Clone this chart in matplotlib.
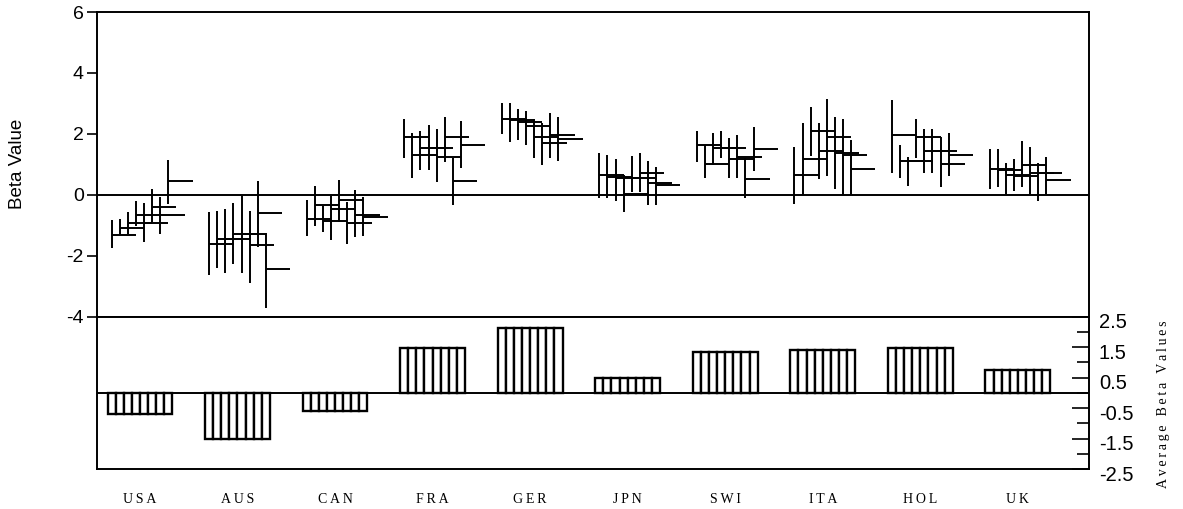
import numpy as np
import matplotlib.pyplot as plt
from matplotlib.transforms import ScaledTranslation

plt.rcParams['axes.unicode_minus'] = False

countries = ['USA', 'AUS', 'CAN', 'FRA', 'GER', 'JPN', 'SWI', 'ITA', 'HOL', 'UK']

# point estimates, lower and upper bounds (8 per country)
beta_est = [
    [-1.33, -1.08, -0.92, -0.66, -0.92, -0.40, -0.66, 0.45],
    [-1.60, -1.46, -1.46, -1.27, -1.30, -1.66, -0.60, -2.43],
    [-0.78, -0.32, -0.85, -0.45, -0.18, -0.92, -0.67, -0.72],
    [1.90, 1.32, 1.53, 1.53, 1.24, 1.90, 0.45, 1.64],
    [2.48, 2.45, 2.39, 2.25, 1.90, 1.70, 1.95, 1.82],
    [0.64, 0.60, 0.55, 0.04, 0.55, 0.72, 0.40, 0.32],
    [1.62, 1.02, 1.55, 1.53, 1.19, 1.24, 0.51, 1.51],
    [0.66, 1.16, 2.11, 1.43, 1.90, 1.38, 1.32, 0.84],
    [1.95, 1.10, 1.10, 1.90, 1.43, 1.43, 1.02, 1.30],
    [0.84, 0.80, 0.64, 0.61, 0.97, 0.70, 0.72, 0.50],
]
beta_low = [
    [-1.73, -1.30, -1.30, -1.03, -1.55, -0.89, -1.27, -0.29],
    [-2.64, -2.39, -2.58, -2.26, -2.58, -2.91, -1.71, -3.70],
    [-1.35, -1.02, -1.22, -1.47, -0.89, -1.60, -1.40, -1.35],
    [1.22, 0.56, 0.83, 0.83, 0.42, 1.08, -0.34, 0.89],
    [2.01, 1.73, 1.81, 1.62, 1.22, 0.97, 1.22, 1.10],
    [-0.09, -0.09, -0.21, -0.56, 0.09, 0.09, -0.34, -0.34],
    [1.08, 0.55, 0.97, 1.21, 0.55, 0.55, -0.10, 0.77],
    [-0.29, 0.00, 1.27, 0.51, 0.62, 0.18, 0.00, 0.00],
    [0.70, 0.55, 0.29, 1.21, 0.70, 0.70, 0.26, 0.62],
    [0.18, 0.26, 0.04, 0.11, 0.26, 0.04, -0.21, 0.04],
]
beta_high = [
    [-0.84, -0.78, -0.58, -0.19, -0.26, 0.20, -0.07, 1.13],
    [-0.58, -0.52, -0.45, -0.26, -0.05, -0.52, 0.45, -1.25],
    [-0.18, 0.28, -0.38, -0.05, 0.48, -0.25, 0.15, -0.07],
    [2.50, 2.04, 2.09, 2.30, 2.17, 2.57, 1.22, 2.42],
    [3.01, 3.01, 2.83, 2.75, 2.50, 2.35, 2.68, 2.55],
    [1.38, 1.32, 1.19, 0.64, 1.26, 1.38, 1.12, 0.92],
    [2.11, 1.62, 2.04, 2.11, 1.86, 1.97, 1.21, 2.22],
    [1.57, 2.37, 2.88, 2.37, 3.15, 2.55, 2.50, 1.79],
    [3.10, 1.64, 1.24, 2.50, 2.17, 2.17, 1.90, 2.04],
    [1.51, 1.51, 1.06, 1.19, 1.77, 1.57, 1.06, 1.24],
]
avg_beta = [-0.68, -1.52, -0.60, 1.46, 2.12, 0.48, 1.34, 1.40, 1.47, 0.74]

step = 0.083   # spacing of the estimates inside a country group
tick = 0.25    # length of the horizontal estimate tick
sans = ['Liberation Sans', 'DejaVu Sans']
serif = ['Liberation Serif', 'DejaVu Serif']

fig = plt.figure(figsize=(11.83, 5.09), dpi=100)
ax = fig.add_axes([0.082, 0.3778, 0.8386, 0.5986])
ax2 = fig.add_axes([0.082, 0.0786, 0.8386, 0.2992])

for i in range(len(countries)):
    n = len(beta_est[i])
    xs = i + (np.arange(n) - (n - 1) / 2) * step
    ax.vlines(xs, beta_low[i], beta_high[i], color='black', lw=1.4)
    ax.hlines(beta_est[i], xs, xs + tick, color='black', lw=1.4)
    ax2.bar(xs, [avg_beta[i]] * n, width=step, color='white',
            edgecolor='black', linewidth=1.7)

# upper panel
ax.axhline(0, color='black', lw=1.4)
ax.set_xlim(-0.44, 9.73)
ax.set_ylim(-4, 6)
ax.set_yticks([-4, -2, 0, 2, 4, 6])
ax.set_xticks([])
ax.tick_params(axis='y', direction='out', length=7.5, width=1.2,
               labelsize=14, pad=2)
for lab in ax.get_yticklabels():
    lab.set_family(sans)
ax.set_ylabel('Beta Value', fontsize=13.5, family=sans)
ax.yaxis.set_label_coords(-0.072, 0.5)
for s in ax.spines.values():
    s.set_linewidth(1.4)

# lower panel, average beta per country
ax2.axhline(0, color='black', lw=1.4)
ax2.set_xlim(-0.44, 9.73)
ax2.set_ylim(-2.5, 2.5)
ax2.yaxis.tick_right()
ax2.set_yticks([-2.5, -1.5, -0.5, 0.5, 1.5, 2.5])
ax2.set_yticklabels(['-2.5', '-1.5', '-0.5', '0.5', '1.5', '2.5'])
ax2.set_yticks([-2, -1, 0, 1, 2], minor=True)
ax2.tick_params(axis='y', which='major', direction='in', length=12, width=1.2,
                labelsize=14.5, pad=7)
ax2.tick_params(axis='y', which='minor', direction='in', length=9, width=1.2)
shift = ScaledTranslation(0, -3 / 72, fig.dpi_scale_trans)
for lab in ax2.get_yticklabels():
    lab.set_family(sans)
    lab.set_transform(lab.get_transform() + shift)
ax2.set_xticks(range(len(countries)))
ax2.set_xticklabels(['\u2009'.join(c) for c in countries],
                    family=serif, fontsize=10)
ax2.tick_params(axis='x', length=0, pad=17)
for s in ax2.spines.values():
    s.set_linewidth(1.4)

fig.text(1163 / 1183, 1 - 404 / 509, '\u2009'.join('Average Beta Values'),
         rotation=90, ha='center', va='center', fontsize=10, family=serif)

fig.savefig('out.png', dpi=100)
